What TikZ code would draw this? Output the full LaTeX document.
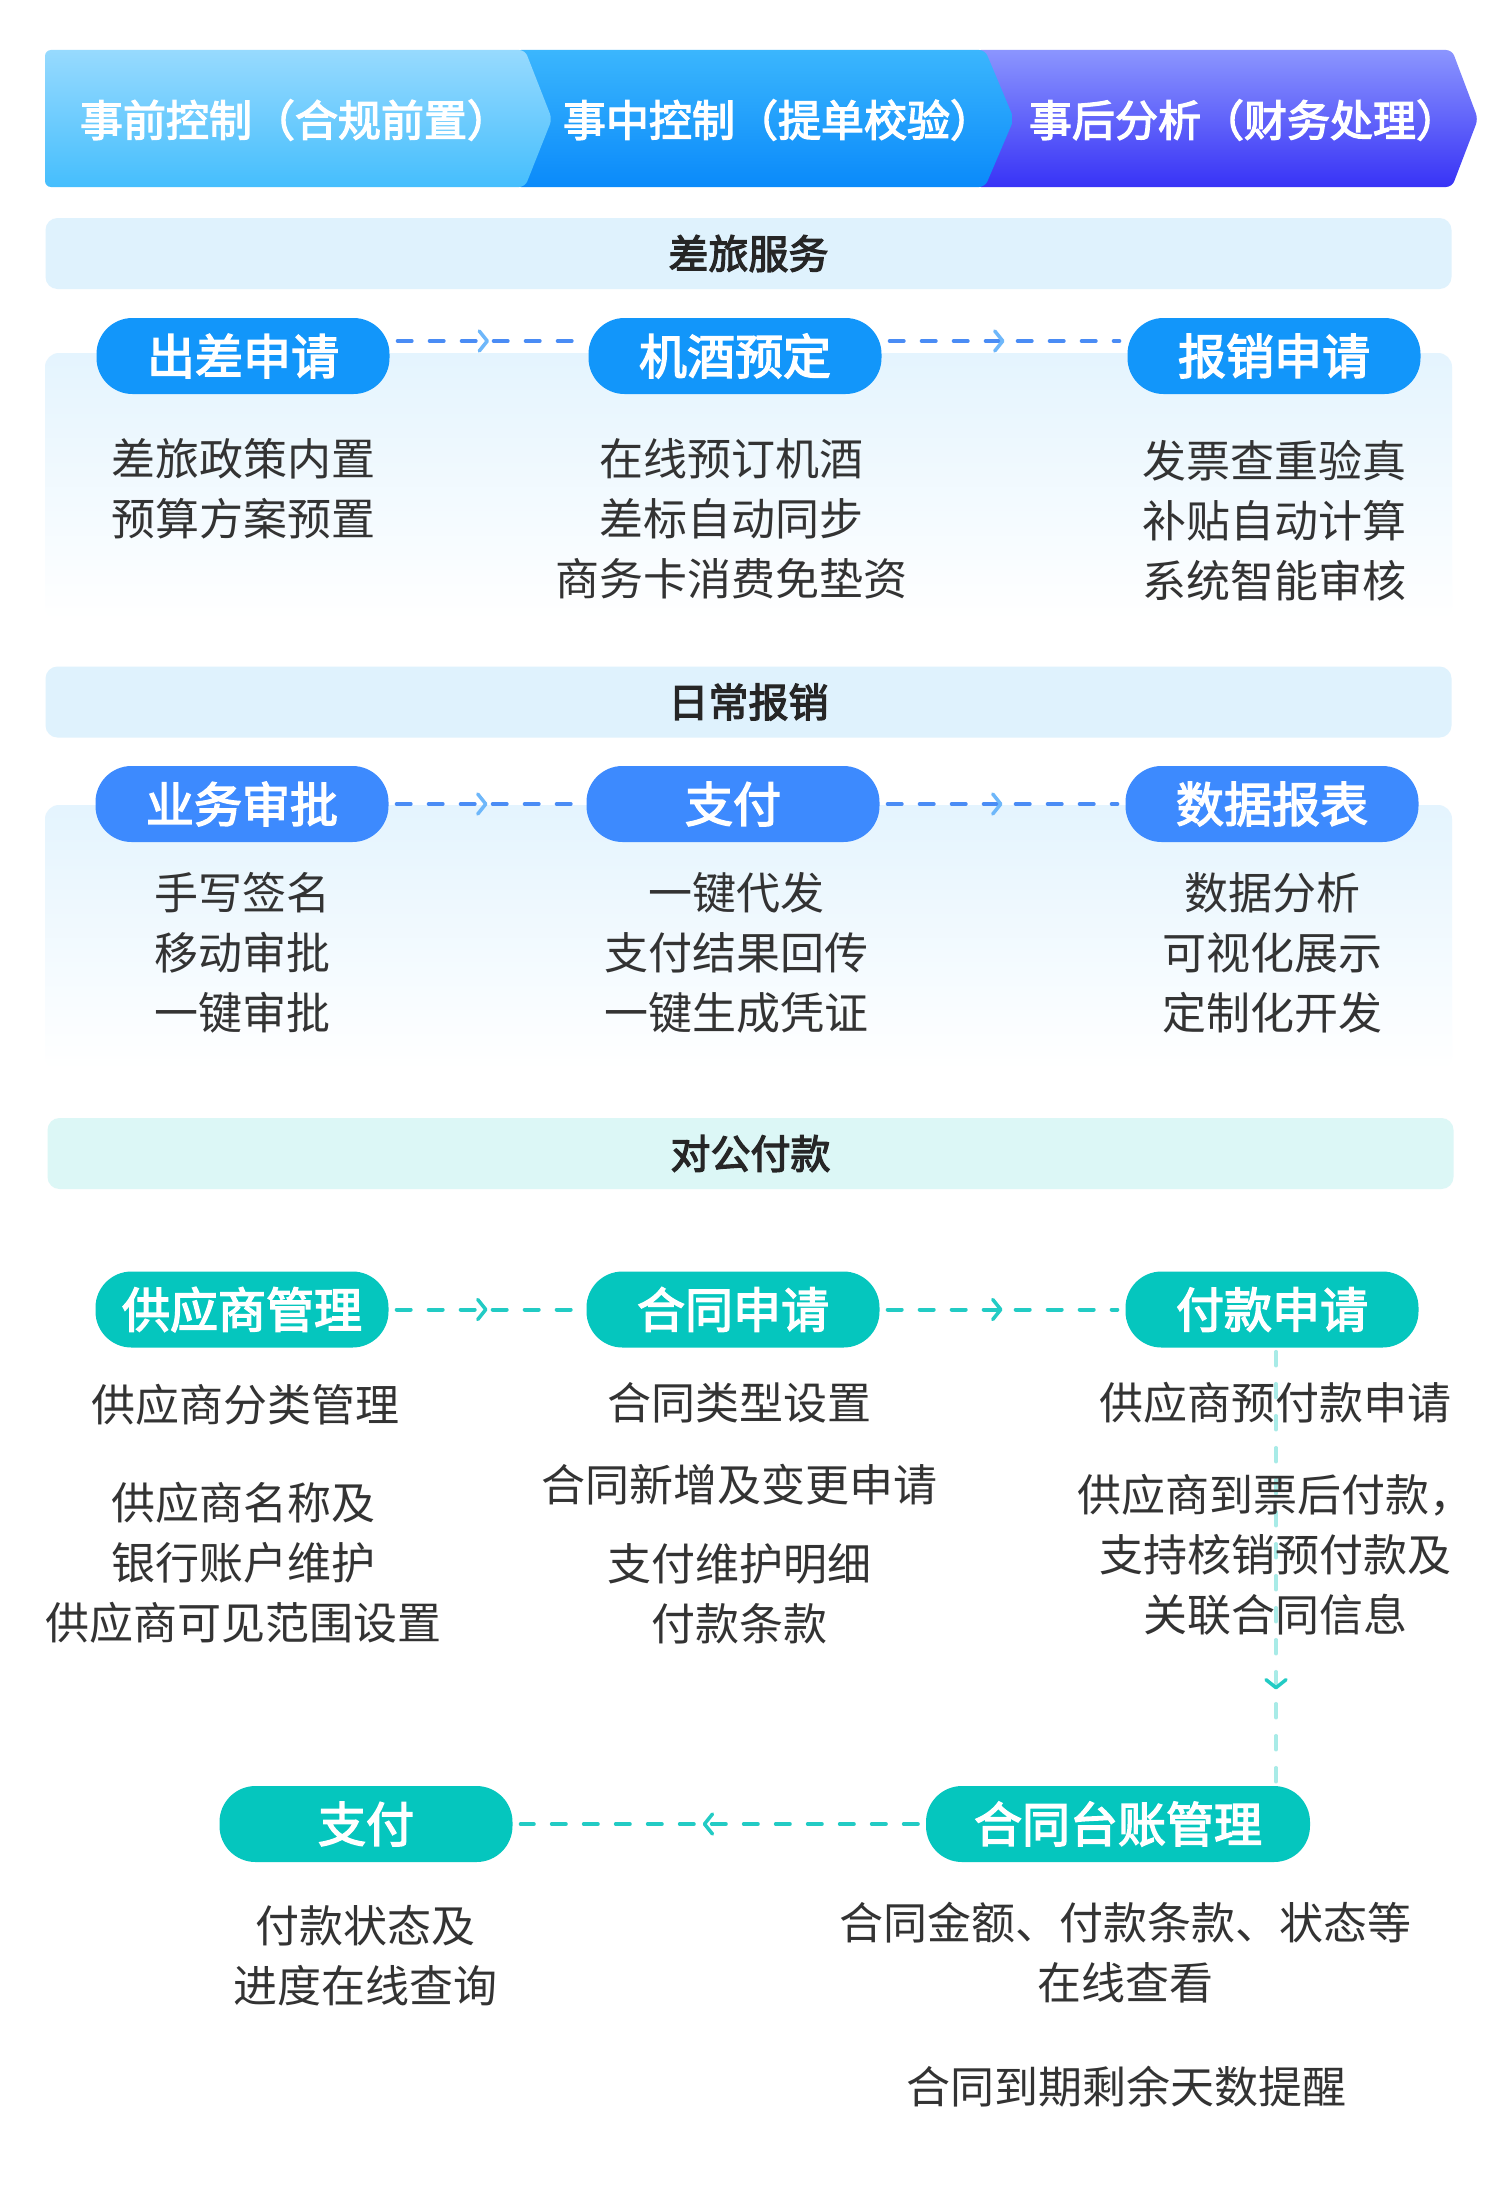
\documentclass[tikz,border=0pt]{standalone}
\usepackage{fontspec}
\setmainfont{Noto Sans CJK SC}
\newfontfamily\medfont[FakeBold=3]{Noto Sans CJK SC}
\usetikzlibrary{arrows.meta, decorations.markings}
\definecolor{txtgray}{HTML}{333333}
\definecolor{barblue}{HTML}{DFF2FD}
\definecolor{barteal}{HTML}{DCF7F6}
\definecolor{panelblue}{HTML}{E4F4FE}
\definecolor{skyblue}{HTML}{1296FA}
\definecolor{royalblue}{HTML}{3D8AFE}
\definecolor{tealpill}{HTML}{05C6BE}
\definecolor{lineblue}{HTML}{4A8CF5}
\definecolor{tipblue}{HTML}{6EB7FA}
\definecolor{lineteal}{HTML}{22CBC4}
\definecolor{paleteal}{HTML}{A8EBE7}
\definecolor{preTop}{HTML}{97DAFE}
\definecolor{preBot}{HTML}{45BEFD}
\definecolor{midTop}{HTML}{3BB6FD}
\definecolor{midBot}{HTML}{0A8AFA}
\definecolor{postTop}{HTML}{8B95FE}
\definecolor{postBot}{HTML}{3833F6}
\tikzset{
  pill/.style={rounded corners=36, minimum width=293, minimum height=76, inner sep=0,
    text=white, font=\fontsize{48}{56}\medfont},
  secbar/.style={rounded corners=12, minimum width=1406, minimum height=71, inner sep=0,
    text=black!85, font=\fontsize{40}{48}\medfont},
  body/.style={text=txtgray, align=center, inner sep=0, font=\fontsize{44}{60}\selectfont},
  htext/.style={text=white, inner sep=0, font=\fontsize{43}{50}\medfont},
  dashline/.style={line width=4, dash pattern=on 14 off 18, line cap=round,
    shorten <=8, shorten >=8, postaction={decorate}},
  blueflow/.style={dashline, draw=lineblue,
    decoration={markings, mark=at position #1 with {\arrow{Straight Barb[length=8pt,width=20pt,line width=3.5pt,round,color=tipblue]}}}},
  blueflow/.default=0.5,
  tealflow/.style={dashline, draw=lineteal,
    decoration={markings, mark=at position #1 with {\arrow{Straight Barb[length=8pt,width=20pt,line width=3.5pt,round,color=lineteal]}}}},
  tealflow/.default=0.5
}
\begin{document}
\begin{tikzpicture}[x=1pt,y=-1pt]
\fill[white] (0,0) rectangle (1500,2200);
\useasboundingbox (0,0) rectangle (1500,2200);

\shade[top color=postTop, bottom color=postBot, rounded corners=6] (975,50) -- (1452,50) -- (1478,119) -- (1452,187) -- (975,187) -- cycle;
\shade[top color=midTop, bottom color=midBot, rounded corners=6] (515,50) -- (985,50) -- (1014,119) -- (985,187) -- (515,187) -- cycle;
\shade[top color=preTop, bottom color=preBot, rounded corners=6] (45,50) -- (525,50) -- (552,119) -- (525,187) -- (45,187) -- cycle;
\node[htext] (hpre) at (295,120) {事前控制（合规前置）};
\node[htext] (hmid) at (778,120) {事中控制（提单校验）};
\node[htext] (hpost) at (1244,120) {事后分析（财务处理）};

\node[secbar, fill=barblue] (travel) at (748.5,253.5) {差旅服务};
\shade[top color=panelblue, bottom color=white, rounded corners=14] (45,353) rectangle (1452,620);
\node[pill, fill=skyblue] (trip) at (243,356) {出差申请};
\node[pill, fill=skyblue] (book) at (735,356) {机酒预定};
\node[pill, fill=skyblue] (claim) at (1274,356) {报销申请};
\draw[blueflow] ([yshift=15pt]trip.east) -- ([yshift=15pt]book.west);
\draw[blueflow] ([yshift=15pt]book.east) -- ([yshift=15pt]claim.west);
\node[body] (tripnote) at (243.5,488.5) {差旅政策内置\\预算方案预置};
\node[body] (booknote) at (731,518.5) {在线预订机酒\\差标自动同步\\商务卡消费免垫资};
\node[body] (claimnote) at (1274,521) {发票查重验真\\补贴自动计算\\系统智能审核};

\node[secbar, fill=barblue] (daily) at (748.5,702) {日常报销};
\shade[top color=panelblue, bottom color=white, rounded corners=14] (45,805) rectangle (1452,1070);
\node[pill, fill=royalblue] (approve) at (242,804) {业务审批};
\node[pill, fill=royalblue] (pay) at (733,804) {支付};
\node[pill, fill=royalblue] (report) at (1272,804) {数据报表};
\draw[blueflow] (approve) -- (pay);
\draw[blueflow] (pay) -- (report);
\node[body] (approvenote) at (242.5,953) {手写签名\\移动审批\\一键审批};
\node[body] (paynote) at (736,953) {一键代发\\支付结果回传\\一键生成凭证};
\node[body] (reportnote) at (1272,953) {数据分析\\可视化展示\\定制化开发};

\node[secbar, fill=barteal] (corp) at (750.5,1153.5) {对公付款};
\node[pill, fill=tealpill] (supplier) at (242,1309.5) {供应商管理};
\node[pill, fill=tealpill] (contract) at (733,1309.5) {合同申请};
\node[pill, fill=tealpill] (payreq) at (1272,1309.5) {付款申请};
\node[pill, fill=tealpill, minimum width=384] (ledger) at (1118,1824) {合同台账管理};
\node[pill, fill=tealpill] (paid) at (366,1824) {支付};
\draw[tealflow] (supplier) -- (contract);
\draw[tealflow] (contract) -- (payreq);
\draw[tealflow=0.78, draw=paleteal, line width=3.5, shorten <=4, shorten >=0] ([xshift=4pt]payreq.south) -- ([xshift=4pt]payreq.south |- ledger.north);
\draw[tealflow=0.54] (ledger) -- (paid);
\node[body] (suppliernote) at (245.5,1405) {供应商分类管理};
\node[body] (banknote) at (243.5,1563) {供应商名称及\\银行账户维护\\供应商可见范围设置};
\node[body] (typenote) at (739.5,1403) {合同类型设置};
\node[body] (changenote) at (739.5,1485) {合同新增及变更申请};
\node[body] (termnote) at (739.5,1594) {支付维护明细\\付款条款};
\node[body] (prepaynote) at (1275,1403) {供应商预付款申请};
\node[body] (invoicenote) at (1275,1555) {供应商到票后付款，\\支持核销预付款及\\关联合同信息};
\node[body] (paidnote) at (365,1956) {付款状态及\\进度在线查询};
\node[body] (ledgernote) at (1125,1953) {合同金额、付款条款、状态等\\在线查看};
\node[body] (duenote) at (1126,2087) {合同到期剩余天数提醒};
\end{tikzpicture}
\end{document}
